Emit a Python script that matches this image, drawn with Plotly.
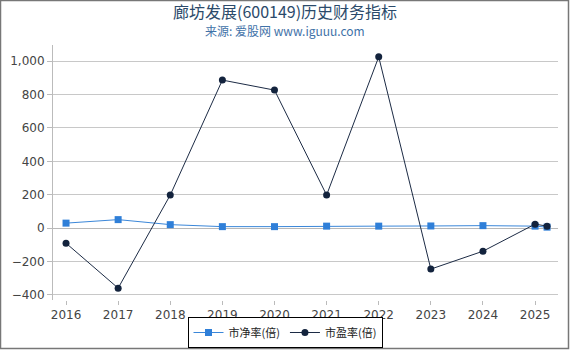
import plotly.graph_objects as go

years = [2016, 2017, 2018, 2019, 2020, 2021, 2022, 2023, 2024, 2025, 2025.23]
pb = [30, 51, 21, 9, 9, 12, 12, 13, 15, 12, 6]
pe = [-90, -359, 198, 886, 826, 198, 1025, -245, -138, 24, 12]
tick_years = [2016, 2017, 2018, 2019, 2020, 2021, 2022, 2023, 2024, 2025]
y_ticks = [-400, -200, 0, 200, 400, 600, 800, 1000]

fig = go.Figure()
fig.add_trace(go.Scatter(
    x=years, y=pb, name="市净率(倍)", mode="lines+markers",
    line=dict(color="#3b87d9", width=1),
    marker=dict(symbol="square", size=7, color="#2f7fd8"),
))
fig.add_trace(go.Scatter(
    x=years, y=pe, name="市盈率(倍)", mode="lines+markers",
    line=dict(color="#1c2b45", width=1),
    marker=dict(symbol="circle", size=7, color="#13233d"),
))

W, H = 570, 350
ml, mr, mt, mb = 53, 12, 45, 50
pw, ph = W - ml - mr, H - mt - mb
cx = (W / 2 - ml) / pw

fig.update_layout(
    width=W, height=H,
    margin=dict(l=ml, r=mr, t=mt, b=mb, autoexpand=False),
    paper_bgcolor="white", plot_bgcolor="white",
    font=dict(family="DejaVu Sans, Noto Sans CJK SC", size=12, color="#444"),
    showlegend=True,
    legend=dict(
        orientation="h", x=0.5, xanchor="center", xref="container",
        y=2 / H, yanchor="bottom", yref="container",
        bordercolor="#000", borderwidth=1,
        font=dict(family="Noto Sans CJK SC, DejaVu Sans", size=11, color="#222"),
        itemwidth=30, tracegroupgap=0,
    ),
    xaxis=dict(
        range=[2015.75, 2025.44], tickvals=tick_years,
        ticktext=[str(y) for y in tick_years],
        showgrid=False, zeroline=False,
        showline=False, ticks="outside", ticklen=4, tickcolor="#bbb",
        tickfont=dict(size=12, color="#444"),
    ),
    yaxis=dict(
        range=[-430, 1096], tickvals=y_ticks,
        tickformat=",d",
        showgrid=True, gridcolor="#c8c8c8", gridwidth=1,
        zeroline=True, zerolinecolor="#b8b8b8", zerolinewidth=1,
        showline=True, linecolor="#bbb", linewidth=1,
        ticks="outside", ticklen=5, tickcolor="#bbb",
        tickfont=dict(size=12, color="#444"),
    ),
    annotations=[
        dict(text="廊坊发展(600149)历史财务指标", xref="paper", yref="paper",
             x=cx, xanchor="center", y=1 + (mt - 10.5) / ph, yanchor="middle",
             showarrow=False, borderpad=0,
             font=dict(family="Noto Sans CJK SC, DejaVu Sans", size=16, color="#2b4a6a")),
        dict(text="来源: 爱股网 www.iguuu.com", xref="paper", yref="paper",
             x=cx, xanchor="center", y=1 + (mt - 31) / ph, yanchor="middle",
             showarrow=False, borderpad=0,
             font=dict(family="Noto Sans CJK SC, DejaVu Sans", size=12, color="#3f72a8")),
    ],
    shapes=[
        dict(type="rect", xref="paper", yref="paper",
             x0=-(ml - 0.5) / pw, x1=1 + (mr - 1.5) / pw,
             y0=-(mb - 1.5) / ph, y1=1 + (mt - 0.5) / ph,
             line=dict(color="#777", width=1.5), fillcolor="rgba(0,0,0,0)",
             layer="above"),
    ],
)

fig.write_html("out.html")
